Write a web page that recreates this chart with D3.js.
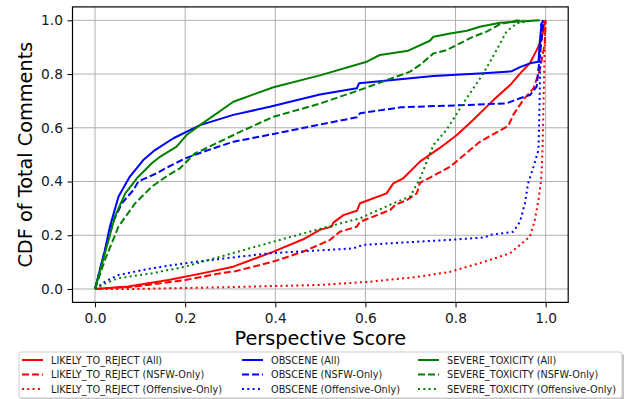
<!DOCTYPE html>
<html>
<head>
<meta charset="utf-8">
<script src="https://cdn.jsdelivr.net/npm/d3@7"></script>
<style>
  body { margin: 0; background: #fff; }
  text { font-family: "DejaVu Sans", sans-serif; }
</style>
</head>
<body>
<div class="canvas"></div>
<script>
// Tick values
const xTicks = [0.0, 0.2, 0.4, 0.6, 0.8, 1.0];
const yTicks = [0.0, 0.2, 0.4, 0.6, 0.8, 1.0];

// Series (score, cdf)
const rejectAll = [[0,0],[0.074,0.009],[0.163,0.033],[0.237,0.058],[0.307,0.083],[0.396,0.139],[0.462,0.185],[0.499,0.22],[0.525,0.232],[0.529,0.247],[0.551,0.275],[0.581,0.291],[0.588,0.319],[0.647,0.356],[0.662,0.393],[0.684,0.412],[0.721,0.474],[0.765,0.525],[0.803,0.573],[0.839,0.629],[0.884,0.703],[0.921,0.759],[0.947,0.809],[0.965,0.84],[0.98,0.889],[0.991,0.927],[0.998,1.0]];
const rejectNsfw = [[0,0],[0.089,0.009],[0.2,0.033],[0.277,0.058],[0.311,0.066],[0.396,0.102],[0.462,0.139],[0.521,0.182],[0.543,0.213],[0.581,0.232],[0.588,0.25],[0.655,0.294],[0.666,0.313],[0.692,0.331],[0.714,0.356],[0.721,0.395],[0.788,0.455],[0.854,0.548],[0.917,0.607],[0.928,0.648],[0.95,0.703],[0.973,0.747],[0.987,0.815],[0.998,0.914],[1.0,1.0]];
const rejectOff = [[0,0],[0.085,0.0],[0.277,0.006],[0.5,0.015],[0.61,0.027],[0.721,0.046],[0.788,0.064],[0.839,0.089],[0.876,0.108],[0.921,0.133],[0.943,0.164],[0.965,0.195],[0.976,0.257],[0.984,0.331],[0.99,0.406],[0.993,0.517],[0.996,0.75],[0.999,1.0]];

const obsceneAll = [[0,0],[0.022,0.145],[0.033,0.232],[0.052,0.343],[0.076,0.415],[0.107,0.48],[0.133,0.517],[0.174,0.561],[0.233,0.61],[0.307,0.648],[0.388,0.678],[0.433,0.697],[0.499,0.724],[0.581,0.747],[0.586,0.766],[0.751,0.793],[0.862,0.803],[0.924,0.81],[0.943,0.826],[0.965,0.84],[0.984,0.846],[0.987,0.92],[0.991,0.989],[0.995,1.0]];
const obsceneNsfw = [[0,0],[0.02,0.13],[0.04,0.25],[0.06,0.32],[0.085,0.368],[0.096,0.4],[0.137,0.431],[0.163,0.455],[0.2,0.486],[0.251,0.517],[0.307,0.548],[0.396,0.577],[0.499,0.612],[0.581,0.639],[0.588,0.654],[0.677,0.676],[0.825,0.685],[0.913,0.691],[0.943,0.71],[0.965,0.722],[0.98,0.753],[0.987,0.865],[0.995,1.0]];
const obsceneOff = [[0,0],[0.022,0.027],[0.052,0.052],[0.126,0.077],[0.2,0.096],[0.277,0.112],[0.388,0.133],[0.573,0.151],[0.595,0.164],[0.788,0.183],[0.865,0.192],[0.876,0.201],[0.928,0.213],[0.943,0.25],[0.954,0.319],[0.961,0.393],[0.973,0.455],[0.984,0.517],[0.986,0.65],[0.988,0.85],[0.99,1.0]];

const severeAll = [[0,0],[0.03,0.182],[0.044,0.269],[0.067,0.356],[0.096,0.418],[0.126,0.468],[0.144,0.492],[0.181,0.53],[0.203,0.573],[0.233,0.61],[0.307,0.697],[0.396,0.751],[0.499,0.795],[0.603,0.846],[0.632,0.871],[0.695,0.887],[0.743,0.924],[0.751,0.939],[0.788,0.951],[0.825,0.961],[0.854,0.976],[0.899,0.991],[0.987,1.0]];
const severeNsfw = [[0,0],[0.022,0.108],[0.052,0.232],[0.089,0.319],[0.126,0.381],[0.163,0.424],[0.189,0.45],[0.222,0.505],[0.233,0.513],[0.322,0.585],[0.396,0.641],[0.499,0.69],[0.588,0.741],[0.699,0.809],[0.721,0.834],[0.751,0.877],[0.78,0.889],[0.839,0.939],[0.869,0.958],[0.899,0.986],[0.936,0.999],[0.95,1.0]];
const severeOff = [[0,0],[0.022,0.02],[0.052,0.04],[0.126,0.058],[0.2,0.083],[0.277,0.12],[0.396,0.176],[0.499,0.224],[0.588,0.263],[0.662,0.319],[0.699,0.344],[0.721,0.41],[0.751,0.536],[0.78,0.592],[0.817,0.691],[0.862,0.803],[0.891,0.889],[0.913,0.958],[0.936,0.989],[0.973,1.0]];

const seriesNames = [
  'LIKELY_TO_REJECT (All)', 'LIKELY_TO_REJECT (NSFW-Only)', 'LIKELY_TO_REJECT (Offensive-Only)',
  'OBSCENE (All)', 'OBSCENE (NSFW-Only)', 'OBSCENE (Offensive-Only)',
  'SEVERE_TOXICITY (All)', 'SEVERE_TOXICITY (NSFW-Only)', 'SEVERE_TOXICITY (Offensive-Only)'
];
const seriesData = [rejectAll, rejectNsfw, rejectOff, obsceneAll, obsceneNsfw, obsceneOff, severeAll, severeNsfw, severeOff];

const colors = ['#ff0000', '#0000ff', '#008000'];
const dashes = [null, '7,3', '2,3.3'];

const dims = { width: 628, height: 399 };
const plot = { left: 72.5, right: 568.2, top: 6.9, bottom: 302.4 };

const svg = d3.select('.canvas')
    .append('svg')
    .attr('width', dims.width)
    .attr('height', dims.height);

const x = d3.scaleLinear().domain([-0.05, 1.05]).range([plot.left, plot.right]);
const y = d3.scaleLinear().domain([-0.05, 1.05]).range([plot.bottom, plot.top]);

// Grid
const grid = svg.append('g');
grid.selectAll('.gx').data(xTicks).enter().append('line')
    .attr('x1', d => x(d)).attr('x2', d => x(d))
    .attr('y1', plot.top).attr('y2', plot.bottom)
    .attr('stroke', '#b0b0b0').attr('stroke-width', 1);
grid.selectAll('.gy').data(yTicks).enter().append('line')
    .attr('y1', d => y(d)).attr('y2', d => y(d))
    .attr('x1', plot.left).attr('x2', plot.right)
    .attr('stroke', '#b0b0b0').attr('stroke-width', 1);

// Lines
const line = d3.line().x(d => x(d[0])).y(d => y(d[1]));
svg.append('g').selectAll('path')
    .data(seriesData)
    .enter().append('path')
    .attr('d', line)
    .attr('fill', 'none')
    .attr('stroke', (d, i) => colors[Math.floor(i / 3)])
    .attr('stroke-width', 2)
    .attr('stroke-dasharray', (d, i) => dashes[i % 3])
    .attr('stroke-linejoin', 'round');

// Axes
const xAxis = d3.axisBottom(x).tickValues(xTicks).tickFormat(d3.format('.1f')).tickSizeOuter(0).tickSize(5).tickPadding(6);
const yAxis = d3.axisLeft(y).tickValues(yTicks).tickFormat(d3.format('.1f')).tickSizeOuter(0).tickSize(5).tickPadding(4.5);

const gx = svg.append('g').attr('transform', `translate(0, ${plot.bottom})`).call(xAxis);
const gy = svg.append('g').attr('transform', `translate(${plot.left}, 0)`).call(yAxis);
[gx, gy].forEach(g => {
  g.select('.domain').remove();
  g.selectAll('text').attr('font-size', 13.8).attr('fill', '#1a1a1a').style('font-family', 'DejaVu Sans');
  g.selectAll('line').attr('stroke', '#000');
});

// Frame
svg.append('rect')
    .attr('x', plot.left).attr('y', plot.top)
    .attr('width', plot.right - plot.left).attr('height', plot.bottom - plot.top)
    .attr('fill', 'none').attr('stroke', '#000').attr('stroke-width', 1.2);

// Axis labels
svg.append('text')
    .attr('x', (plot.left + plot.right) / 2).attr('y', 345)
    .attr('text-anchor', 'middle').attr('font-size', 19.3)
    .text('Perspective Score');
svg.append('text')
    .attr('transform', `translate(32, ${(plot.top + plot.bottom) / 2}) rotate(-90)`)
    .attr('text-anchor', 'middle').attr('font-size', 19.3)
    .text('CDF of Total Comments');

// Legend
const legend = svg.append('g');
legend.append('rect')
    .attr('x', 21).attr('y', 354).attr('width', 603).attr('height', 46)
    .attr('rx', 2).attr('fill', '#999').attr('opacity', 0.6);
legend.append('rect')
    .attr('x', 19).attr('y', 352).attr('width', 603).attr('height', 46)
    .attr('rx', 2).attr('fill', '#fff').attr('stroke', '#cccccc').attr('stroke-width', 1);

const colX = [22, 242, 418];
const rowY = [360, 374.5, 389];
const items = legend.selectAll('.item')
    .data(seriesNames)
    .enter().append('g')
    .attr('transform', (d, i) => `translate(${colX[Math.floor(i / 3)]}, ${rowY[i % 3]})`);
items.append('line')
    .attr('x1', 0).attr('x2', 21).attr('y1', 0).attr('y2', 0)
    .attr('stroke', (d, i) => colors[Math.floor(i / 3)])
    .attr('stroke-width', 2)
    .attr('stroke-dasharray', (d, i) => dashes[i % 3]);
items.append('text')
    .attr('x', 29).attr('y', 3.5)
    .attr('font-size', 9.7).attr('fill', '#1a1a1a')
    .text(d => d);
</script>
</body>
</html>
